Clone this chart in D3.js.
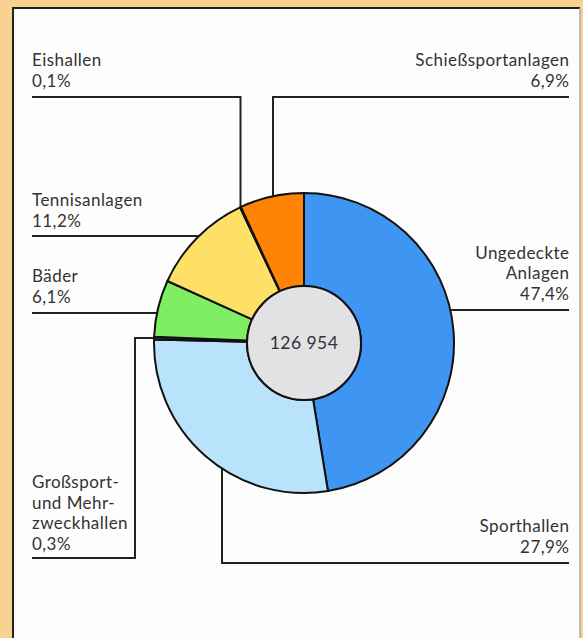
<!DOCTYPE html>
<html>
<head>
<meta charset="utf-8">
<script src="https://d3js.org/d3.v7.min.js"></script>
<style>
  body { margin: 0; background: #f8d291; }
  svg { display: block; }
  text { font-family: Lato, "Open Sans", sans-serif; font-size: 17px; letter-spacing: 0.45px; fill: #333; }
</style>
</head>
<body>
<svg id="viz"></svg>
<script>
// Anteile der Sportstätten (in %)
var categories = ["Ungedeckte Anlagen", "Sporthallen", "Großsport- und Mehrzweckhallen", "Bäder", "Tennisanlagen", "Eishallen", "Schießsportanlagen"];
var values = [47.4, 27.9, 0.3, 6.1, 11.2, 0.1, 6.9];
var valueLabels = ["47,4%", "27,9%", "0,3%", "6,1%", "11,2%", "0,1%", "6,9%"];
var labelLines = [["Ungedeckte", "Anlagen"], ["Sporthallen"], ["Großsport-", "und Mehr-", "zweckhallen"], ["Bäder"], ["Tennisanlagen"], ["Eishallen"], ["Schießsportanlagen"]];
var total = "126 954";
var colors = ["#3f95f2", "#b9e3fb", "#23384a", "#80ee62", "#ffe067", "#2a1f3a", "#ff8305"];

var width = 583, height = 638;
var cx = 304, cy = 343, rOuter = 150, rInner = 57;
var xl = 32, xr = 569;

var svg = d3.select("#viz").attr("width", width).attr("height", height);

// Rahmen
svg.append("rect").attr("x", 0).attr("y", 0).attr("width", width).attr("height", height).attr("fill", "#f8d291");
svg.append("rect").attr("x", 13).attr("y", 8).attr("width", 567).attr("height", height)
  .attr("fill", "#fdfdfd").attr("stroke", "none");
svg.append("line").attr("x1", 13).attr("y1", 8).attr("x2", 13).attr("y2", height).attr("stroke", "#222").attr("stroke-width", 2);
svg.append("line").attr("x1", 12).attr("y1", 8).attr("x2", 580).attr("y2", 8).attr("stroke", "#222").attr("stroke-width", 2);
svg.append("line").attr("x1", 580).attr("y1", 8).attr("x2", 580).attr("y2", height).attr("stroke", "#aaa").attr("stroke-width", 1.5);

var pie = d3.pie().sort(null).value(function(d) { return d; });
var arcs = pie(values);
var arc = d3.arc().innerRadius(rInner).outerRadius(rOuter);

// Hilfsfunktionen: Punkte auf dem Außenkreis
function edgeAtY(y, side) { return cx + side * Math.sqrt(rOuter * rOuter - (y - cy) * (y - cy)); }
function edgeAtX(x, side) { return cy + side * Math.sqrt(rOuter * rOuter - (x - cx) * (x - cx)); }
function midPoint(a) {
  var m = (a.startAngle + a.endAngle) / 2;
  return [cx + rOuter * Math.sin(m), cy - rOuter * Math.cos(m)];
}

var leaders = [
  [[edgeAtY(310, 1), 310], [xr, 310]],
  [[222, edgeAtX(222, 1)], [222, 563], [xr, 563]],
  [midPoint(arcs[2]), [135, midPoint(arcs[2])[1]], [135, 558], [xl, 558]],
  [[xl, 313], [edgeAtY(313, -1), 313]],
  [[xl, 236], [edgeAtY(236, -1), 236]],
  [[xl, 97], [midPoint(arcs[5])[0], 97], midPoint(arcs[5])],
  [[xr, 97], [273, 97], [273, edgeAtX(273, -1)]]
];

// Textpositionen: Grundlinie der letzten Zeile, Ausrichtung
var labelPos = [
  {x: xr, y: 300, anchor: "end"},
  {x: xr, y: 553, anchor: "end"},
  {x: xl, y: 550, anchor: "start"},
  {x: xl, y: 303, anchor: "start"},
  {x: xl, y: 227, anchor: "start"},
  {x: xl, y: 87, anchor: "start"},
  {x: xr, y: 87, anchor: "end"}
];

var line = d3.line();
svg.append("g").selectAll("path")
  .data(leaders).enter().append("path")
  .attr("d", line)
  .attr("fill", "none")
  .attr("stroke", "#222")
  .attr("stroke-width", 2);

var g = svg.append("g").attr("transform", "translate(" + cx + "," + cy + ")");
g.selectAll("path")
  .data(arcs).enter().append("path")
  .attr("d", arc)
  .attr("fill", function(d, i) { return colors[i]; })
  .attr("stroke", "#111")
  .attr("stroke-width", 2)
  .attr("stroke-linejoin", "round");

g.append("circle").attr("r", rInner).attr("fill", "#e2e2e4").attr("stroke", "#111").attr("stroke-width", 2);
g.append("text").attr("text-anchor", "middle").attr("dy", "0.35em").style("font-size", "17.5px").text(total);

var lh = 20.6;
labelPos.forEach(function(p, i) {
  var lines = labelLines[i].concat([valueLabels[i]]);
  lines.forEach(function(s, k) {
    svg.append("text")
      .attr("text-anchor", p.anchor)
      .attr("x", p.anchor === "end" ? p.x + 0.45 : p.x)
      .attr("y", p.y - (lines.length - 1 - k) * lh)
      .text(s);
  });
});
</script>
</body>
</html>
